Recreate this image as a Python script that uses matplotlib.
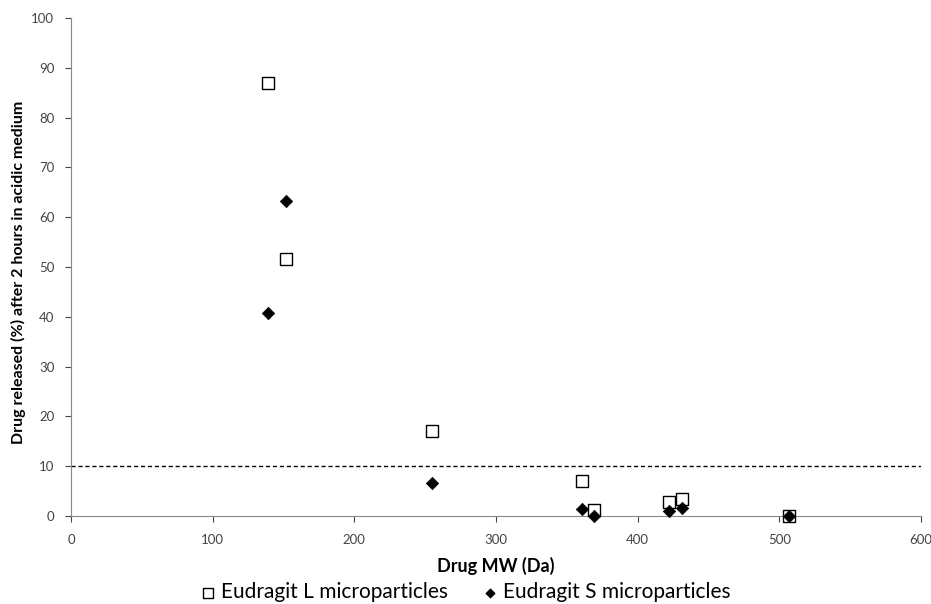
import matplotlib
matplotlib.use("Agg")
import matplotlib.pyplot as plt

mw_L = [139, 152, 255, 361, 369, 422, 431, 507]
rel_L = [87.0, 51.7, 17.1, 7.0, 1.3, 2.8, 3.4, 0.0]
mw_S = [139, 152, 255, 361, 369, 422, 431, 507]
rel_S = [40.8, 63.3, 6.7, 1.4, 0.0, 1.1, 1.7, 0.0]
threshold = 10
x_ticks = [0, 100, 200, 300, 400, 500, 600]
y_ticks = [0, 10, 20, 30, 40, 50, 60, 70, 80, 90, 100]

plt.rcParams['font.family'] = ['Lato', 'DejaVu Sans']
fig = plt.figure(figsize=(9.31, 6.04), dpi=100)
ax = fig.add_axes([71/931, 1-516/604, 850/931, 498/604])

ax.axhline(threshold, color='black', linestyle=(0, (3, 2)), linewidth=1.0, zorder=1)
ax.scatter(mw_L, rel_L, marker='s', s=75, facecolors='white', edgecolors='black',
           linewidths=1.0, label='Eudragit L microparticles', zorder=3, clip_on=False)
ax.scatter(mw_S, rel_S, marker='D', s=40, facecolors='black', edgecolors='black',
           linewidths=0.5, label='Eudragit S microparticles', zorder=4, clip_on=False)

ax.set_xlim(0, 600)
ax.set_ylim(0, 100)
ax.set_xticks(x_ticks)
ax.set_yticks(y_ticks)
ax.tick_params(axis='both', labelsize=9.5, colors='#444444', length=4, width=0.8, direction='out')
ax.tick_params(axis='x', pad=9)
ax.tick_params(axis='y', pad=8)
for s in ['top', 'right']:
    ax.spines[s].set_visible(False)
for s in ['left', 'bottom']:
    ax.spines[s].set_color('#888888')
    ax.spines[s].set_linewidth(0.8)

ax.set_xlabel('Drug MW (Da)', fontsize=13, fontweight='bold', va='center')
ax.xaxis.set_label_coords(0.5, (516-566)/498)
ax.set_ylabel('Drug released (%) after 2 hours in acidic medium', fontsize=11.5,
              fontweight='bold', va='center')
ax.yaxis.set_label_coords((18.5-71)/850, (516-272)/498)

handles, labels = ax.get_legend_handles_labels()
fig.legend(handles, labels, loc='center', bbox_to_anchor=(0.498, 1-592/604), ncol=2, frameon=False,
           fontsize=15, handletextpad=0.05, columnspacing=1.5, markerscale=0.75,
           borderpad=0.0, handlelength=1.1)

fig.savefig('out.png', dpi=100)
